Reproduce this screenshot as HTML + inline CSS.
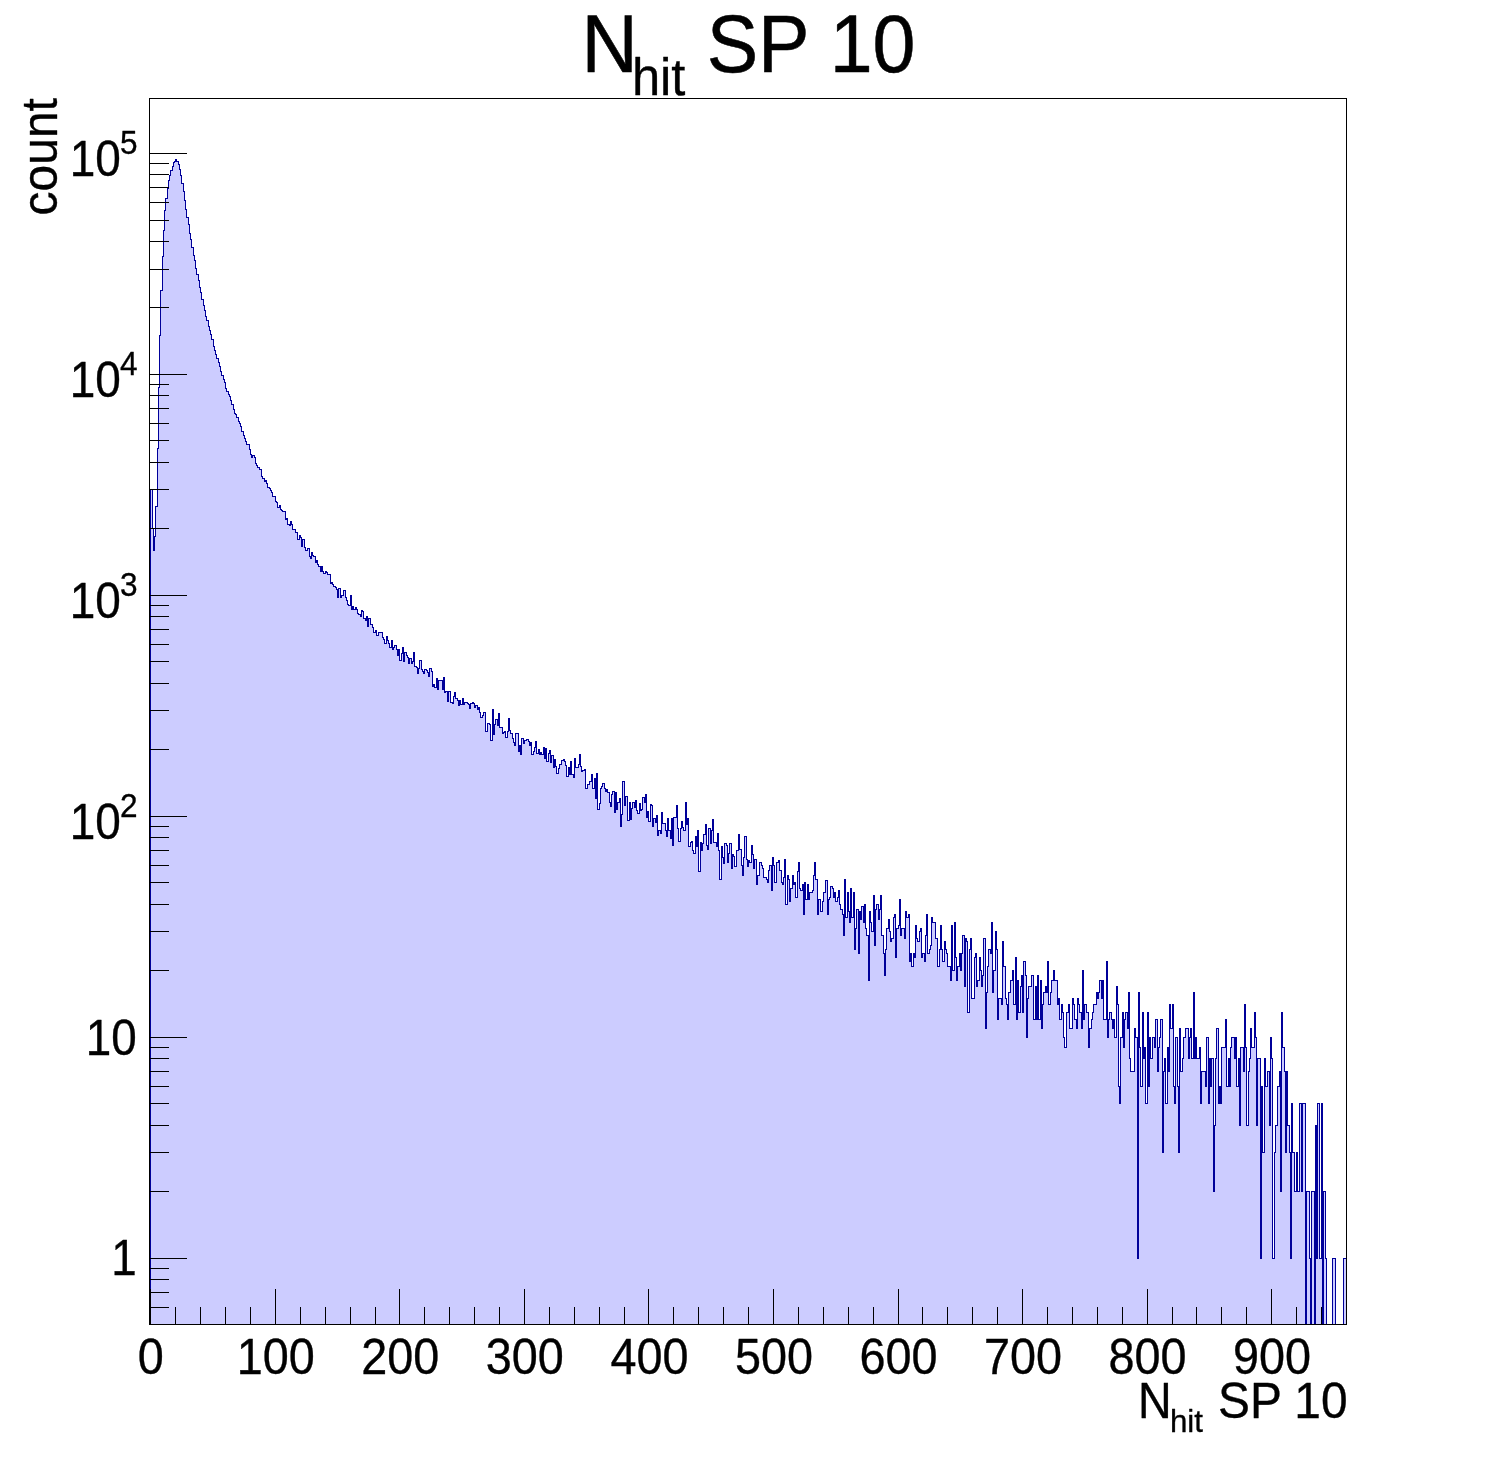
<!DOCTYPE html>
<html lang="en">
<head>
<meta charset="utf-8">
<title>N_hit SP 10</title>
<style>
html,body{margin:0;padding:0;background:#fff;}
body{width:1496px;height:1472px;overflow:hidden;}
svg{display:block;}
svg text{font-family:"Liberation Sans", sans-serif;fill:#000;stroke:#000;stroke-linejoin:round;}
</style>
</head>
<body>
<svg width="1496" height="1472" viewBox="0 0 1496 1472">
<rect x="0" y="0" width="1496" height="1472" fill="#fff"/>
<g shape-rendering="crispEdges">
<path d="M149.5 1324.5L150.5 1324.5L150.5 489.5L152.5 489.5L152.5 528.5L153.5 528.5L153.5 550.5L154.5 550.5L154.5 536.5L155.5 536.5L155.5 506.5L157.5 506.5L157.5 448.5L158.5 448.5L158.5 387.5L159.5 387.5L159.5 335.5L160.5 335.5L160.5 290.5L162.5 290.5L162.5 256.5L163.5 256.5L163.5 230.5L164.5 230.5L164.5 210.5L165.5 210.5L165.5 198.5L167.5 198.5L167.5 188.5L168.5 188.5L168.5 180.5L169.5 180.5L169.5 175.5L170.5 175.5L170.5 170.5L172.5 170.5L172.5 166.5L173.5 166.5L173.5 162.5L174.5 162.5L174.5 161.5L175.5 161.5L175.5 159.5L176.5 159.5L176.5 161.5L178.5 161.5L178.5 164.5L179.5 164.5L179.5 169.5L180.5 169.5L180.5 175.5L181.5 175.5L181.5 183.5L183.5 183.5L183.5 191.5L184.5 191.5L184.5 200.5L185.5 200.5L185.5 209.5L186.5 209.5L186.5 217.5L188.5 217.5L188.5 224.5L189.5 224.5L189.5 233.5L190.5 233.5L190.5 239.5L191.5 239.5L191.5 247.5L193.5 247.5L193.5 255.5L194.5 255.5L194.5 260.5L195.5 260.5L195.5 268.5L196.5 268.5L196.5 274.5L198.5 274.5L198.5 280.5L199.5 280.5L199.5 287.5L200.5 287.5L200.5 292.5L201.5 292.5L201.5 299.5L203.5 299.5L203.5 305.5L204.5 305.5L204.5 310.5L205.5 310.5L205.5 316.5L206.5 316.5L206.5 320.5L208.5 320.5L208.5 326.5L209.5 326.5L209.5 330.5L210.5 330.5L210.5 334.5L211.5 334.5L211.5 339.5L213.5 339.5L213.5 346.5L214.5 346.5L214.5 350.5L215.5 350.5L215.5 354.5L216.5 354.5L216.5 358.5L218.5 358.5L218.5 362.5L219.5 362.5L219.5 366.5L220.5 366.5L220.5 371.5L221.5 371.5L221.5 375.5L223.5 375.5L223.5 379.5L224.5 379.5L224.5 382.5L225.5 382.5L225.5 388.5L226.5 388.5L226.5 391.5L228.5 391.5L228.5 394.5L229.5 394.5L229.5 396.5L230.5 396.5L230.5 400.5L231.5 400.5L231.5 404.5L233.5 404.5L233.5 409.5L234.5 409.5L234.5 413.5L235.5 413.5L235.5 414.5L236.5 414.5L236.5 417.5L238.5 417.5L238.5 421.5L239.5 421.5L239.5 423.5L240.5 423.5L240.5 426.5L241.5 426.5L241.5 431.5L243.5 431.5L243.5 435.5L244.5 435.5L244.5 438.5L245.5 438.5L245.5 441.5L246.5 441.5L246.5 444.5L247.5 444.5L249.5 444.5L249.5 449.5L250.5 449.5L250.5 454.5L251.5 454.5L251.5 457.5L252.5 457.5L252.5 455.5L254.5 455.5L254.5 457.5L255.5 457.5L255.5 463.5L256.5 463.5L256.5 465.5L257.5 465.5L257.5 467.5L259.5 467.5L259.5 469.5L260.5 469.5L261.5 469.5L261.5 476.5L262.5 476.5L262.5 478.5L264.5 478.5L264.5 481.5L265.5 481.5L265.5 480.5L266.5 480.5L266.5 483.5L267.5 483.5L267.5 487.5L269.5 487.5L269.5 488.5L270.5 488.5L270.5 490.5L271.5 490.5L271.5 492.5L272.5 492.5L272.5 496.5L274.5 496.5L275.5 496.5L275.5 501.5L276.5 501.5L276.5 502.5L277.5 502.5L277.5 507.5L279.5 507.5L279.5 505.5L280.5 505.5L280.5 509.5L281.5 509.5L281.5 510.5L282.5 510.5L282.5 511.5L284.5 511.5L285.5 511.5L285.5 519.5L286.5 519.5L286.5 518.5L287.5 518.5L287.5 524.5L289.5 524.5L289.5 525.5L290.5 525.5L290.5 521.5L291.5 521.5L291.5 524.5L292.5 524.5L292.5 529.5L294.5 529.5L295.5 529.5L295.5 532.5L296.5 532.5L297.5 532.5L297.5 539.5L299.5 539.5L299.5 535.5L300.5 535.5L300.5 537.5L301.5 537.5L301.5 546.5L302.5 546.5L302.5 539.5L304.5 539.5L304.5 547.5L305.5 547.5L305.5 550.5L306.5 550.5L307.5 550.5L307.5 548.5L309.5 548.5L309.5 556.5L310.5 556.5L310.5 558.5L311.5 558.5L311.5 552.5L312.5 552.5L312.5 555.5L313.5 555.5L313.5 556.5L315.5 556.5L315.5 562.5L316.5 562.5L316.5 560.5L317.5 560.5L317.5 564.5L318.5 564.5L318.5 566.5L320.5 566.5L320.5 571.5L321.5 571.5L321.5 566.5L322.5 566.5L322.5 571.5L323.5 571.5L323.5 573.5L325.5 573.5L325.5 571.5L326.5 571.5L326.5 572.5L327.5 572.5L327.5 574.5L328.5 574.5L330.5 574.5L330.5 583.5L331.5 583.5L331.5 582.5L332.5 582.5L332.5 584.5L333.5 584.5L333.5 586.5L335.5 586.5L335.5 587.5L336.5 587.5L336.5 589.5L337.5 589.5L337.5 597.5L338.5 597.5L338.5 588.5L340.5 588.5L340.5 597.5L341.5 597.5L341.5 595.5L342.5 595.5L343.5 595.5L343.5 590.5L345.5 590.5L345.5 597.5L346.5 597.5L346.5 600.5L347.5 600.5L347.5 604.5L348.5 604.5L348.5 605.5L350.5 605.5L350.5 595.5L351.5 595.5L351.5 609.5L352.5 609.5L352.5 606.5L353.5 606.5L353.5 609.5L355.5 609.5L355.5 607.5L356.5 607.5L356.5 609.5L357.5 609.5L357.5 613.5L358.5 613.5L358.5 614.5L360.5 614.5L360.5 616.5L361.5 616.5L361.5 610.5L362.5 610.5L362.5 611.5L363.5 611.5L363.5 618.5L365.5 618.5L365.5 620.5L366.5 620.5L366.5 616.5L367.5 616.5L367.5 626.5L368.5 626.5L368.5 618.5L370.5 618.5L370.5 624.5L371.5 624.5L372.5 624.5L372.5 627.5L373.5 627.5L373.5 632.5L375.5 632.5L375.5 630.5L376.5 630.5L376.5 635.5L377.5 635.5L378.5 635.5L378.5 632.5L379.5 632.5L381.5 632.5L382.5 632.5L382.5 637.5L383.5 637.5L383.5 639.5L384.5 639.5L384.5 643.5L386.5 643.5L386.5 636.5L387.5 636.5L387.5 640.5L388.5 640.5L388.5 643.5L389.5 643.5L389.5 647.5L391.5 647.5L391.5 640.5L392.5 640.5L392.5 649.5L393.5 649.5L393.5 647.5L394.5 647.5L394.5 645.5L396.5 645.5L396.5 649.5L397.5 649.5L397.5 655.5L398.5 655.5L398.5 649.5L399.5 649.5L399.5 660.5L401.5 660.5L401.5 653.5L402.5 653.5L402.5 647.5L403.5 647.5L403.5 661.5L404.5 661.5L404.5 652.5L406.5 652.5L406.5 655.5L407.5 655.5L407.5 657.5L408.5 657.5L408.5 663.5L409.5 663.5L409.5 658.5L411.5 658.5L411.5 663.5L412.5 663.5L412.5 661.5L413.5 661.5L413.5 652.5L414.5 652.5L414.5 666.5L416.5 666.5L416.5 667.5L417.5 667.5L417.5 673.5L418.5 673.5L418.5 668.5L419.5 668.5L419.5 660.5L421.5 660.5L421.5 669.5L422.5 669.5L422.5 671.5L423.5 671.5L423.5 673.5L424.5 673.5L424.5 669.5L426.5 669.5L426.5 670.5L427.5 670.5L427.5 672.5L428.5 672.5L428.5 676.5L429.5 676.5L429.5 668.5L431.5 668.5L431.5 671.5L432.5 671.5L432.5 686.5L433.5 686.5L433.5 684.5L434.5 684.5L434.5 687.5L436.5 687.5L436.5 678.5L437.5 678.5L437.5 689.5L438.5 689.5L438.5 680.5L439.5 680.5L441.5 680.5L442.5 680.5L442.5 689.5L443.5 689.5L443.5 677.5L444.5 677.5L444.5 692.5L445.5 692.5L445.5 691.5L447.5 691.5L447.5 701.5L448.5 701.5L448.5 691.5L449.5 691.5L450.5 691.5L450.5 702.5L452.5 702.5L452.5 703.5L453.5 703.5L453.5 696.5L454.5 696.5L454.5 692.5L455.5 692.5L455.5 698.5L457.5 698.5L457.5 700.5L458.5 700.5L458.5 705.5L459.5 705.5L459.5 700.5L460.5 700.5L460.5 704.5L462.5 704.5L462.5 698.5L463.5 698.5L463.5 704.5L464.5 704.5L464.5 702.5L465.5 702.5L467.5 702.5L467.5 703.5L468.5 703.5L468.5 704.5L469.5 704.5L469.5 708.5L470.5 708.5L470.5 703.5L472.5 703.5L472.5 702.5L473.5 702.5L473.5 703.5L474.5 703.5L474.5 707.5L475.5 707.5L475.5 705.5L477.5 705.5L477.5 709.5L478.5 709.5L478.5 707.5L479.5 707.5L479.5 712.5L480.5 712.5L480.5 717.5L482.5 717.5L482.5 715.5L483.5 715.5L483.5 712.5L484.5 712.5L485.5 712.5L485.5 731.5L487.5 731.5L487.5 723.5L488.5 723.5L489.5 723.5L489.5 724.5L490.5 724.5L490.5 740.5L492.5 740.5L492.5 709.5L493.5 709.5L493.5 734.5L494.5 734.5L494.5 724.5L495.5 724.5L495.5 719.5L497.5 719.5L497.5 725.5L498.5 725.5L498.5 713.5L499.5 713.5L499.5 727.5L500.5 727.5L502.5 727.5L502.5 733.5L503.5 733.5L503.5 732.5L504.5 732.5L504.5 731.5L505.5 731.5L505.5 737.5L507.5 737.5L507.5 731.5L508.5 731.5L508.5 718.5L509.5 718.5L509.5 730.5L510.5 730.5L510.5 733.5L512.5 733.5L512.5 738.5L513.5 738.5L513.5 742.5L514.5 742.5L514.5 745.5L515.5 745.5L515.5 733.5L516.5 733.5L518.5 733.5L518.5 751.5L519.5 751.5L519.5 745.5L520.5 745.5L520.5 754.5L521.5 754.5L521.5 738.5L523.5 738.5L523.5 743.5L524.5 743.5L524.5 740.5L525.5 740.5L526.5 740.5L526.5 739.5L528.5 739.5L528.5 741.5L529.5 741.5L529.5 745.5L530.5 745.5L530.5 742.5L531.5 742.5L531.5 754.5L533.5 754.5L533.5 751.5L534.5 751.5L534.5 747.5L535.5 747.5L535.5 741.5L536.5 741.5L536.5 753.5L538.5 753.5L538.5 749.5L539.5 749.5L539.5 754.5L540.5 754.5L540.5 752.5L541.5 752.5L541.5 754.5L543.5 754.5L543.5 747.5L544.5 747.5L544.5 758.5L545.5 758.5L545.5 748.5L546.5 748.5L546.5 761.5L548.5 761.5L548.5 753.5L549.5 753.5L549.5 750.5L550.5 750.5L550.5 762.5L551.5 762.5L551.5 755.5L553.5 755.5L553.5 767.5L554.5 767.5L554.5 759.5L555.5 759.5L555.5 766.5L556.5 766.5L556.5 773.5L558.5 773.5L558.5 768.5L559.5 768.5L559.5 764.5L560.5 764.5L561.5 764.5L561.5 760.5L563.5 760.5L563.5 759.5L564.5 759.5L564.5 761.5L565.5 761.5L565.5 765.5L566.5 765.5L566.5 776.5L568.5 776.5L568.5 767.5L569.5 767.5L569.5 774.5L570.5 774.5L570.5 761.5L571.5 761.5L571.5 774.5L573.5 774.5L573.5 777.5L574.5 777.5L574.5 758.5L575.5 758.5L575.5 767.5L576.5 767.5L578.5 767.5L578.5 764.5L579.5 764.5L579.5 754.5L580.5 754.5L580.5 766.5L581.5 766.5L581.5 771.5L582.5 771.5L582.5 770.5L584.5 770.5L584.5 769.5L585.5 769.5L585.5 788.5L586.5 788.5L587.5 788.5L587.5 784.5L589.5 784.5L589.5 781.5L590.5 781.5L591.5 781.5L591.5 774.5L592.5 774.5L592.5 788.5L594.5 788.5L594.5 778.5L595.5 778.5L595.5 798.5L596.5 798.5L596.5 773.5L597.5 773.5L597.5 809.5L599.5 809.5L599.5 803.5L600.5 803.5L600.5 788.5L601.5 788.5L601.5 786.5L602.5 786.5L602.5 783.5L604.5 783.5L604.5 788.5L605.5 788.5L605.5 791.5L606.5 791.5L606.5 789.5L607.5 789.5L607.5 792.5L609.5 792.5L609.5 802.5L610.5 802.5L610.5 806.5L611.5 806.5L611.5 794.5L612.5 794.5L612.5 791.5L614.5 791.5L614.5 812.5L615.5 812.5L615.5 792.5L616.5 792.5L616.5 809.5L617.5 809.5L617.5 802.5L619.5 802.5L619.5 798.5L620.5 798.5L620.5 826.5L621.5 826.5L621.5 814.5L622.5 814.5L622.5 781.5L624.5 781.5L624.5 805.5L625.5 805.5L625.5 796.5L626.5 796.5L627.5 796.5L627.5 820.5L629.5 820.5L629.5 802.5L630.5 802.5L630.5 819.5L631.5 819.5L631.5 808.5L632.5 808.5L632.5 802.5L634.5 802.5L634.5 807.5L635.5 807.5L635.5 800.5L636.5 800.5L636.5 810.5L637.5 810.5L637.5 813.5L639.5 813.5L639.5 803.5L640.5 803.5L640.5 810.5L641.5 810.5L641.5 809.5L642.5 809.5L642.5 797.5L644.5 797.5L644.5 802.5L645.5 802.5L645.5 794.5L646.5 794.5L646.5 817.5L647.5 817.5L647.5 811.5L648.5 811.5L648.5 821.5L650.5 821.5L650.5 804.5L651.5 804.5L651.5 805.5L652.5 805.5L652.5 826.5L653.5 826.5L653.5 818.5L655.5 818.5L655.5 822.5L656.5 822.5L656.5 815.5L657.5 815.5L657.5 835.5L658.5 835.5L658.5 830.5L660.5 830.5L660.5 833.5L661.5 833.5L661.5 812.5L662.5 812.5L662.5 823.5L663.5 823.5L665.5 823.5L665.5 830.5L666.5 830.5L666.5 836.5L667.5 836.5L667.5 818.5L668.5 818.5L668.5 830.5L670.5 830.5L670.5 838.5L671.5 838.5L671.5 818.5L672.5 818.5L672.5 845.5L673.5 845.5L673.5 817.5L675.5 817.5L676.5 817.5L676.5 805.5L677.5 805.5L677.5 828.5L678.5 828.5L678.5 841.5L680.5 841.5L680.5 828.5L681.5 828.5L681.5 821.5L682.5 821.5L682.5 827.5L683.5 827.5L683.5 830.5L685.5 830.5L685.5 802.5L686.5 802.5L686.5 824.5L687.5 824.5L687.5 818.5L688.5 818.5L688.5 846.5L690.5 846.5L690.5 842.5L691.5 842.5L691.5 841.5L692.5 841.5L692.5 850.5L693.5 850.5L693.5 853.5L695.5 853.5L695.5 836.5L696.5 836.5L696.5 846.5L697.5 846.5L697.5 830.5L698.5 830.5L698.5 871.5L700.5 871.5L700.5 842.5L701.5 842.5L701.5 850.5L702.5 850.5L702.5 843.5L703.5 843.5L703.5 834.5L705.5 834.5L705.5 824.5L706.5 824.5L706.5 845.5L707.5 845.5L707.5 849.5L708.5 849.5L708.5 828.5L710.5 828.5L710.5 843.5L711.5 843.5L711.5 830.5L712.5 830.5L712.5 819.5L713.5 819.5L713.5 842.5L714.5 842.5L716.5 842.5L716.5 846.5L717.5 846.5L717.5 833.5L718.5 833.5L718.5 850.5L719.5 850.5L719.5 879.5L721.5 879.5L721.5 846.5L722.5 846.5L722.5 857.5L723.5 857.5L723.5 863.5L724.5 863.5L724.5 843.5L726.5 843.5L726.5 845.5L727.5 845.5L727.5 862.5L728.5 862.5L728.5 853.5L729.5 853.5L729.5 843.5L731.5 843.5L731.5 868.5L732.5 868.5L732.5 854.5L733.5 854.5L733.5 856.5L734.5 856.5L734.5 866.5L736.5 866.5L736.5 850.5L737.5 850.5L738.5 850.5L738.5 834.5L739.5 834.5L739.5 849.5L741.5 849.5L741.5 865.5L742.5 865.5L742.5 875.5L743.5 875.5L743.5 857.5L744.5 857.5L744.5 836.5L746.5 836.5L746.5 859.5L747.5 859.5L747.5 866.5L748.5 866.5L748.5 860.5L749.5 860.5L749.5 862.5L751.5 862.5L751.5 845.5L752.5 845.5L752.5 854.5L753.5 854.5L753.5 868.5L754.5 868.5L754.5 859.5L756.5 859.5L756.5 884.5L757.5 884.5L757.5 875.5L758.5 875.5L759.5 875.5L759.5 862.5L761.5 862.5L761.5 865.5L762.5 865.5L762.5 868.5L763.5 868.5L763.5 877.5L764.5 877.5L766.5 877.5L766.5 879.5L767.5 879.5L767.5 882.5L768.5 882.5L768.5 870.5L769.5 870.5L769.5 865.5L771.5 865.5L771.5 890.5L772.5 890.5L772.5 857.5L773.5 857.5L773.5 865.5L774.5 865.5L774.5 882.5L776.5 882.5L776.5 862.5L777.5 862.5L778.5 862.5L778.5 860.5L779.5 860.5L779.5 870.5L781.5 870.5L781.5 882.5L782.5 882.5L782.5 884.5L783.5 884.5L783.5 877.5L784.5 877.5L784.5 859.5L785.5 859.5L785.5 904.5L787.5 904.5L787.5 875.5L788.5 875.5L788.5 879.5L789.5 879.5L789.5 901.5L790.5 901.5L790.5 888.5L792.5 888.5L792.5 875.5L793.5 875.5L793.5 884.5L794.5 884.5L794.5 882.5L795.5 882.5L795.5 897.5L797.5 897.5L797.5 871.5L798.5 871.5L798.5 862.5L799.5 862.5L799.5 888.5L800.5 888.5L800.5 890.5L802.5 890.5L802.5 884.5L803.5 884.5L803.5 914.5L804.5 914.5L804.5 882.5L805.5 882.5L805.5 899.5L807.5 899.5L807.5 884.5L808.5 884.5L808.5 899.5L809.5 899.5L809.5 892.5L810.5 892.5L812.5 892.5L812.5 890.5L813.5 890.5L813.5 875.5L814.5 875.5L814.5 862.5L815.5 862.5L815.5 879.5L817.5 879.5L817.5 914.5L818.5 914.5L818.5 899.5L819.5 899.5L820.5 899.5L820.5 911.5L822.5 911.5L822.5 901.5L823.5 901.5L823.5 892.5L824.5 892.5L825.5 892.5L825.5 880.5L827.5 880.5L827.5 914.5L828.5 914.5L828.5 899.5L829.5 899.5L829.5 897.5L830.5 897.5L830.5 886.5L832.5 886.5L832.5 888.5L833.5 888.5L833.5 897.5L834.5 897.5L834.5 892.5L835.5 892.5L835.5 901.5L837.5 901.5L837.5 897.5L838.5 897.5L838.5 890.5L839.5 890.5L839.5 904.5L840.5 904.5L840.5 909.5L842.5 909.5L842.5 914.5L843.5 914.5L843.5 935.5L844.5 935.5L844.5 879.5L845.5 879.5L845.5 917.5L847.5 917.5L847.5 892.5L848.5 892.5L848.5 911.5L849.5 911.5L849.5 922.5L850.5 922.5L850.5 888.5L851.5 888.5L851.5 917.5L853.5 917.5L853.5 892.5L854.5 892.5L854.5 949.5L855.5 949.5L855.5 928.5L856.5 928.5L856.5 909.5L858.5 909.5L858.5 953.5L859.5 953.5L859.5 911.5L860.5 911.5L860.5 919.5L861.5 919.5L861.5 906.5L863.5 906.5L863.5 922.5L864.5 922.5L864.5 904.5L865.5 904.5L865.5 928.5L866.5 928.5L866.5 935.5L868.5 935.5L868.5 980.5L869.5 980.5L869.5 911.5L870.5 911.5L870.5 922.5L871.5 922.5L871.5 931.5L873.5 931.5L873.5 895.5L874.5 895.5L874.5 945.5L875.5 945.5L875.5 909.5L876.5 909.5L876.5 904.5L878.5 904.5L878.5 919.5L879.5 919.5L879.5 909.5L880.5 909.5L880.5 895.5L881.5 895.5L881.5 935.5L883.5 935.5L883.5 953.5L884.5 953.5L884.5 975.5L885.5 975.5L885.5 949.5L886.5 949.5L886.5 928.5L888.5 928.5L888.5 919.5L889.5 919.5L889.5 931.5L890.5 931.5L890.5 941.5L891.5 941.5L891.5 938.5L893.5 938.5L893.5 917.5L894.5 917.5L894.5 914.5L895.5 914.5L895.5 957.5L896.5 957.5L896.5 928.5L898.5 928.5L898.5 925.5L899.5 925.5L899.5 899.5L900.5 899.5L900.5 935.5L901.5 935.5L901.5 928.5L903.5 928.5L904.5 928.5L904.5 938.5L905.5 938.5L905.5 911.5L906.5 911.5L906.5 917.5L908.5 917.5L908.5 914.5L909.5 914.5L909.5 961.5L910.5 961.5L910.5 953.5L911.5 953.5L911.5 966.5L913.5 966.5L913.5 953.5L914.5 953.5L914.5 957.5L915.5 957.5L915.5 925.5L916.5 925.5L916.5 938.5L917.5 938.5L917.5 941.5L919.5 941.5L919.5 931.5L920.5 931.5L920.5 928.5L921.5 928.5L921.5 957.5L922.5 957.5L922.5 953.5L924.5 953.5L924.5 961.5L925.5 961.5L925.5 935.5L926.5 935.5L926.5 914.5L927.5 914.5L927.5 953.5L929.5 953.5L929.5 949.5L930.5 949.5L930.5 945.5L931.5 945.5L931.5 917.5L932.5 917.5L932.5 922.5L934.5 922.5L935.5 922.5L935.5 938.5L936.5 938.5L937.5 938.5L937.5 966.5L939.5 966.5L939.5 949.5L940.5 949.5L940.5 925.5L941.5 925.5L941.5 949.5L942.5 949.5L942.5 961.5L944.5 961.5L944.5 941.5L945.5 941.5L945.5 949.5L946.5 949.5L946.5 953.5L947.5 953.5L947.5 966.5L949.5 966.5L950.5 966.5L950.5 980.5L951.5 980.5L951.5 925.5L952.5 925.5L952.5 970.5L954.5 970.5L954.5 922.5L955.5 922.5L955.5 957.5L956.5 957.5L956.5 980.5L957.5 980.5L957.5 966.5L959.5 966.5L959.5 953.5L960.5 953.5L960.5 970.5L961.5 970.5L961.5 953.5L962.5 953.5L962.5 935.5L964.5 935.5L964.5 986.5L965.5 986.5L965.5 938.5L966.5 938.5L966.5 941.5L967.5 941.5L967.5 1012.5L969.5 1012.5L969.5 949.5L970.5 949.5L970.5 938.5L971.5 938.5L971.5 998.5L972.5 998.5L974.5 998.5L974.5 957.5L975.5 957.5L975.5 953.5L976.5 953.5L976.5 986.5L977.5 986.5L977.5 980.5L979.5 980.5L979.5 957.5L980.5 957.5L980.5 970.5L981.5 970.5L981.5 986.5L982.5 986.5L982.5 975.5L983.5 975.5L983.5 938.5L985.5 938.5L985.5 1028.5L986.5 1028.5L986.5 992.5L987.5 992.5L987.5 966.5L988.5 966.5L988.5 949.5L990.5 949.5L990.5 953.5L991.5 953.5L991.5 922.5L992.5 922.5L992.5 992.5L993.5 992.5L993.5 970.5L995.5 970.5L995.5 931.5L996.5 931.5L996.5 949.5L997.5 949.5L997.5 1019.5L998.5 1019.5L998.5 998.5L1000.5 998.5L1001.5 998.5L1001.5 1004.5L1002.5 1004.5L1002.5 941.5L1003.5 941.5L1003.5 966.5L1005.5 966.5L1005.5 998.5L1006.5 998.5L1006.5 1004.5L1007.5 1004.5L1007.5 1019.5L1008.5 1019.5L1008.5 992.5L1010.5 992.5L1010.5 980.5L1011.5 980.5L1012.5 980.5L1012.5 970.5L1013.5 970.5L1013.5 1004.5L1015.5 1004.5L1015.5 957.5L1016.5 957.5L1016.5 1019.5L1017.5 1019.5L1017.5 980.5L1018.5 980.5L1018.5 1012.5L1020.5 1012.5L1020.5 986.5L1021.5 986.5L1021.5 975.5L1022.5 975.5L1022.5 1012.5L1023.5 1012.5L1023.5 961.5L1025.5 961.5L1025.5 975.5L1026.5 975.5L1026.5 1037.5L1027.5 1037.5L1027.5 998.5L1028.5 998.5L1028.5 986.5L1030.5 986.5L1031.5 986.5L1031.5 975.5L1032.5 975.5L1033.5 975.5L1033.5 1019.5L1035.5 1019.5L1035.5 986.5L1036.5 986.5L1036.5 1019.5L1037.5 1019.5L1037.5 975.5L1038.5 975.5L1038.5 1019.5L1040.5 1019.5L1040.5 980.5L1041.5 980.5L1041.5 1028.5L1042.5 1028.5L1042.5 1004.5L1043.5 1004.5L1043.5 992.5L1045.5 992.5L1045.5 986.5L1046.5 986.5L1046.5 992.5L1047.5 992.5L1047.5 961.5L1048.5 961.5L1048.5 1004.5L1050.5 1004.5L1050.5 992.5L1051.5 992.5L1051.5 980.5L1052.5 980.5L1053.5 980.5L1053.5 970.5L1054.5 970.5L1054.5 980.5L1056.5 980.5L1057.5 980.5L1057.5 1004.5L1058.5 1004.5L1058.5 998.5L1059.5 998.5L1059.5 1019.5L1061.5 1019.5L1061.5 1004.5L1062.5 1004.5L1062.5 1012.5L1063.5 1012.5L1063.5 1037.5L1064.5 1037.5L1064.5 1047.5L1066.5 1047.5L1066.5 1012.5L1067.5 1012.5L1068.5 1012.5L1068.5 1004.5L1069.5 1004.5L1069.5 1028.5L1071.5 1028.5L1072.5 1028.5L1072.5 998.5L1073.5 998.5L1073.5 1004.5L1074.5 1004.5L1074.5 1019.5L1076.5 1019.5L1076.5 1028.5L1077.5 1028.5L1077.5 998.5L1078.5 998.5L1078.5 1004.5L1079.5 1004.5L1079.5 1012.5L1081.5 1012.5L1081.5 1028.5L1082.5 1028.5L1082.5 970.5L1083.5 970.5L1083.5 1019.5L1084.5 1019.5L1084.5 1004.5L1086.5 1004.5L1086.5 1012.5L1087.5 1012.5L1088.5 1012.5L1088.5 1047.5L1089.5 1047.5L1089.5 1028.5L1091.5 1028.5L1091.5 1019.5L1092.5 1019.5L1092.5 1012.5L1093.5 1012.5L1093.5 1004.5L1094.5 1004.5L1096.5 1004.5L1096.5 992.5L1097.5 992.5L1097.5 998.5L1098.5 998.5L1098.5 992.5L1099.5 992.5L1099.5 980.5L1101.5 980.5L1101.5 998.5L1102.5 998.5L1102.5 980.5L1103.5 980.5L1103.5 1019.5L1104.5 1019.5L1106.5 1019.5L1106.5 961.5L1107.5 961.5L1107.5 1037.5L1108.5 1037.5L1108.5 1019.5L1109.5 1019.5L1109.5 1012.5L1111.5 1012.5L1111.5 1019.5L1112.5 1019.5L1112.5 1028.5L1113.5 1028.5L1113.5 1019.5L1114.5 1019.5L1114.5 1037.5L1116.5 1037.5L1116.5 986.5L1117.5 986.5L1117.5 1004.5L1118.5 1004.5L1118.5 1086.5L1119.5 1086.5L1119.5 1103.5L1120.5 1103.5L1120.5 1037.5L1122.5 1037.5L1122.5 1012.5L1123.5 1012.5L1123.5 1047.5L1124.5 1047.5L1124.5 1019.5L1125.5 1019.5L1125.5 1012.5L1127.5 1012.5L1127.5 1028.5L1128.5 1028.5L1128.5 992.5L1129.5 992.5L1129.5 1058.5L1130.5 1058.5L1130.5 1071.5L1132.5 1071.5L1133.5 1071.5L1134.5 1071.5L1134.5 1028.5L1135.5 1028.5L1135.5 1037.5L1137.5 1037.5L1137.5 1258.5L1138.5 1258.5L1138.5 992.5L1139.5 992.5L1139.5 1047.5L1140.5 1047.5L1140.5 1086.5L1142.5 1086.5L1142.5 1012.5L1143.5 1012.5L1143.5 1058.5L1144.5 1058.5L1144.5 1047.5L1145.5 1047.5L1145.5 1103.5L1147.5 1103.5L1147.5 1012.5L1148.5 1012.5L1148.5 1086.5L1149.5 1086.5L1149.5 1037.5L1150.5 1037.5L1150.5 1058.5L1152.5 1058.5L1152.5 1037.5L1153.5 1037.5L1154.5 1037.5L1154.5 1047.5L1155.5 1047.5L1155.5 1019.5L1157.5 1019.5L1157.5 1071.5L1158.5 1071.5L1158.5 1047.5L1159.5 1047.5L1159.5 1037.5L1160.5 1037.5L1160.5 1019.5L1162.5 1019.5L1162.5 1152.5L1163.5 1152.5L1163.5 1071.5L1164.5 1071.5L1164.5 1058.5L1165.5 1058.5L1165.5 1103.5L1167.5 1103.5L1167.5 1047.5L1168.5 1047.5L1168.5 1071.5L1169.5 1071.5L1169.5 1004.5L1170.5 1004.5L1170.5 1028.5L1172.5 1028.5L1172.5 1004.5L1173.5 1004.5L1173.5 1086.5L1174.5 1086.5L1174.5 1103.5L1175.5 1103.5L1175.5 1037.5L1177.5 1037.5L1177.5 1086.5L1178.5 1086.5L1178.5 1152.5L1179.5 1152.5L1179.5 1028.5L1180.5 1028.5L1180.5 1071.5L1182.5 1071.5L1182.5 1058.5L1183.5 1058.5L1183.5 1037.5L1184.5 1037.5L1185.5 1037.5L1185.5 1028.5L1186.5 1028.5L1188.5 1028.5L1188.5 1058.5L1189.5 1058.5L1189.5 1037.5L1190.5 1037.5L1190.5 1028.5L1191.5 1028.5L1191.5 1058.5L1193.5 1058.5L1193.5 992.5L1194.5 992.5L1194.5 1058.5L1195.5 1058.5L1195.5 1037.5L1196.5 1037.5L1196.5 1058.5L1198.5 1058.5L1199.5 1058.5L1199.5 1047.5L1200.5 1047.5L1200.5 1103.5L1201.5 1103.5L1201.5 1071.5L1203.5 1071.5L1204.5 1071.5L1205.5 1071.5L1205.5 1086.5L1206.5 1086.5L1206.5 1037.5L1208.5 1037.5L1208.5 1103.5L1209.5 1103.5L1209.5 1058.5L1210.5 1058.5L1210.5 1086.5L1211.5 1086.5L1211.5 1058.5L1213.5 1058.5L1213.5 1191.5L1214.5 1191.5L1214.5 1125.5L1215.5 1125.5L1215.5 1058.5L1216.5 1058.5L1216.5 1028.5L1218.5 1028.5L1218.5 1103.5L1219.5 1103.5L1219.5 1086.5L1220.5 1086.5L1220.5 1103.5L1221.5 1103.5L1221.5 1047.5L1223.5 1047.5L1224.5 1047.5L1225.5 1047.5L1225.5 1019.5L1226.5 1019.5L1226.5 1086.5L1228.5 1086.5L1228.5 1058.5L1229.5 1058.5L1229.5 1086.5L1230.5 1086.5L1230.5 1047.5L1231.5 1047.5L1231.5 1037.5L1233.5 1037.5L1234.5 1037.5L1234.5 1058.5L1235.5 1058.5L1235.5 1037.5L1236.5 1037.5L1236.5 1086.5L1238.5 1086.5L1238.5 1058.5L1239.5 1058.5L1239.5 1125.5L1240.5 1125.5L1240.5 1047.5L1241.5 1047.5L1243.5 1047.5L1243.5 1071.5L1244.5 1071.5L1244.5 1004.5L1245.5 1004.5L1245.5 1047.5L1246.5 1047.5L1246.5 1125.5L1248.5 1125.5L1248.5 1071.5L1249.5 1071.5L1249.5 1058.5L1250.5 1058.5L1250.5 1028.5L1251.5 1028.5L1251.5 1047.5L1252.5 1047.5L1254.5 1047.5L1254.5 1012.5L1255.5 1012.5L1255.5 1037.5L1256.5 1037.5L1256.5 1125.5L1257.5 1125.5L1257.5 1058.5L1259.5 1058.5L1260.5 1058.5L1260.5 1258.5L1261.5 1258.5L1261.5 1086.5L1262.5 1086.5L1262.5 1152.5L1264.5 1152.5L1264.5 1058.5L1265.5 1058.5L1265.5 1086.5L1266.5 1086.5L1267.5 1086.5L1267.5 1071.5L1269.5 1071.5L1269.5 1125.5L1270.5 1125.5L1270.5 1037.5L1271.5 1037.5L1271.5 1058.5L1272.5 1058.5L1272.5 1258.5L1274.5 1258.5L1274.5 1152.5L1275.5 1152.5L1275.5 1125.5L1276.5 1125.5L1277.5 1125.5L1277.5 1086.5L1279.5 1086.5L1279.5 1071.5L1280.5 1071.5L1280.5 1191.5L1281.5 1191.5L1281.5 1012.5L1282.5 1012.5L1282.5 1047.5L1284.5 1047.5L1284.5 1071.5L1285.5 1071.5L1285.5 1152.5L1286.5 1152.5L1286.5 1071.5L1287.5 1071.5L1287.5 1125.5L1289.5 1125.5L1289.5 1152.5L1290.5 1152.5L1290.5 1258.5L1291.5 1258.5L1291.5 1103.5L1292.5 1103.5L1292.5 1152.5L1294.5 1152.5L1294.5 1191.5L1295.5 1191.5L1296.5 1191.5L1296.5 1152.5L1297.5 1152.5L1297.5 1191.5L1299.5 1191.5L1299.5 1103.5L1300.5 1103.5L1301.5 1103.5L1301.5 1191.5L1302.5 1191.5L1302.5 1103.5L1304.5 1103.5L1305.5 1103.5L1305.5 1324.5L1306.5 1324.5L1306.5 1191.5L1307.5 1191.5L1309.5 1191.5L1309.5 1258.5L1310.5 1258.5L1310.5 1324.5L1311.5 1324.5L1311.5 1191.5L1312.5 1191.5L1314.5 1191.5L1314.5 1324.5L1315.5 1324.5L1315.5 1125.5L1316.5 1125.5L1316.5 1258.5L1317.5 1258.5L1317.5 1103.5L1319.5 1103.5L1319.5 1258.5L1320.5 1258.5L1321.5 1258.5L1321.5 1103.5L1322.5 1103.5L1322.5 1324.5L1323.5 1324.5L1323.5 1191.5L1325.5 1191.5L1325.5 1258.5L1326.5 1258.5L1326.5 1324.5L1327.5 1324.5L1328.5 1324.5L1330.5 1324.5L1331.5 1324.5L1332.5 1324.5L1332.5 1258.5L1333.5 1258.5L1335.5 1258.5L1335.5 1324.5L1336.5 1324.5L1337.5 1324.5L1338.5 1324.5L1340.5 1324.5L1341.5 1324.5L1342.5 1324.5L1343.5 1324.5L1343.5 1258.5L1345.5 1258.5L1346.5 1258.5L1346.5 1324.5Z" fill="#ccccff" stroke="none"/>
<path d="M149.5 1324.5L150.5 1324.5L150.5 489.5L152.5 489.5L152.5 528.5L153.5 528.5L153.5 550.5L154.5 550.5L154.5 536.5L155.5 536.5L155.5 506.5L157.5 506.5L157.5 448.5L158.5 448.5L158.5 387.5L159.5 387.5L159.5 335.5L160.5 335.5L160.5 290.5L162.5 290.5L162.5 256.5L163.5 256.5L163.5 230.5L164.5 230.5L164.5 210.5L165.5 210.5L165.5 198.5L167.5 198.5L167.5 188.5L168.5 188.5L168.5 180.5L169.5 180.5L169.5 175.5L170.5 175.5L170.5 170.5L172.5 170.5L172.5 166.5L173.5 166.5L173.5 162.5L174.5 162.5L174.5 161.5L175.5 161.5L175.5 159.5L176.5 159.5L176.5 161.5L178.5 161.5L178.5 164.5L179.5 164.5L179.5 169.5L180.5 169.5L180.5 175.5L181.5 175.5L181.5 183.5L183.5 183.5L183.5 191.5L184.5 191.5L184.5 200.5L185.5 200.5L185.5 209.5L186.5 209.5L186.5 217.5L188.5 217.5L188.5 224.5L189.5 224.5L189.5 233.5L190.5 233.5L190.5 239.5L191.5 239.5L191.5 247.5L193.5 247.5L193.5 255.5L194.5 255.5L194.5 260.5L195.5 260.5L195.5 268.5L196.5 268.5L196.5 274.5L198.5 274.5L198.5 280.5L199.5 280.5L199.5 287.5L200.5 287.5L200.5 292.5L201.5 292.5L201.5 299.5L203.5 299.5L203.5 305.5L204.5 305.5L204.5 310.5L205.5 310.5L205.5 316.5L206.5 316.5L206.5 320.5L208.5 320.5L208.5 326.5L209.5 326.5L209.5 330.5L210.5 330.5L210.5 334.5L211.5 334.5L211.5 339.5L213.5 339.5L213.5 346.5L214.5 346.5L214.5 350.5L215.5 350.5L215.5 354.5L216.5 354.5L216.5 358.5L218.5 358.5L218.5 362.5L219.5 362.5L219.5 366.5L220.5 366.5L220.5 371.5L221.5 371.5L221.5 375.5L223.5 375.5L223.5 379.5L224.5 379.5L224.5 382.5L225.5 382.5L225.5 388.5L226.5 388.5L226.5 391.5L228.5 391.5L228.5 394.5L229.5 394.5L229.5 396.5L230.5 396.5L230.5 400.5L231.5 400.5L231.5 404.5L233.5 404.5L233.5 409.5L234.5 409.5L234.5 413.5L235.5 413.5L235.5 414.5L236.5 414.5L236.5 417.5L238.5 417.5L238.5 421.5L239.5 421.5L239.5 423.5L240.5 423.5L240.5 426.5L241.5 426.5L241.5 431.5L243.5 431.5L243.5 435.5L244.5 435.5L244.5 438.5L245.5 438.5L245.5 441.5L246.5 441.5L246.5 444.5L247.5 444.5L249.5 444.5L249.5 449.5L250.5 449.5L250.5 454.5L251.5 454.5L251.5 457.5L252.5 457.5L252.5 455.5L254.5 455.5L254.5 457.5L255.5 457.5L255.5 463.5L256.5 463.5L256.5 465.5L257.5 465.5L257.5 467.5L259.5 467.5L259.5 469.5L260.5 469.5L261.5 469.5L261.5 476.5L262.5 476.5L262.5 478.5L264.5 478.5L264.5 481.5L265.5 481.5L265.5 480.5L266.5 480.5L266.5 483.5L267.5 483.5L267.5 487.5L269.5 487.5L269.5 488.5L270.5 488.5L270.5 490.5L271.5 490.5L271.5 492.5L272.5 492.5L272.5 496.5L274.5 496.5L275.5 496.5L275.5 501.5L276.5 501.5L276.5 502.5L277.5 502.5L277.5 507.5L279.5 507.5L279.5 505.5L280.5 505.5L280.5 509.5L281.5 509.5L281.5 510.5L282.5 510.5L282.5 511.5L284.5 511.5L285.5 511.5L285.5 519.5L286.5 519.5L286.5 518.5L287.5 518.5L287.5 524.5L289.5 524.5L289.5 525.5L290.5 525.5L290.5 521.5L291.5 521.5L291.5 524.5L292.5 524.5L292.5 529.5L294.5 529.5L295.5 529.5L295.5 532.5L296.5 532.5L297.5 532.5L297.5 539.5L299.5 539.5L299.5 535.5L300.5 535.5L300.5 537.5L301.5 537.5L301.5 546.5L302.5 546.5L302.5 539.5L304.5 539.5L304.5 547.5L305.5 547.5L305.5 550.5L306.5 550.5L307.5 550.5L307.5 548.5L309.5 548.5L309.5 556.5L310.5 556.5L310.5 558.5L311.5 558.5L311.5 552.5L312.5 552.5L312.5 555.5L313.5 555.5L313.5 556.5L315.5 556.5L315.5 562.5L316.5 562.5L316.5 560.5L317.5 560.5L317.5 564.5L318.5 564.5L318.5 566.5L320.5 566.5L320.5 571.5L321.5 571.5L321.5 566.5L322.5 566.5L322.5 571.5L323.5 571.5L323.5 573.5L325.5 573.5L325.5 571.5L326.5 571.5L326.5 572.5L327.5 572.5L327.5 574.5L328.5 574.5L330.5 574.5L330.5 583.5L331.5 583.5L331.5 582.5L332.5 582.5L332.5 584.5L333.5 584.5L333.5 586.5L335.5 586.5L335.5 587.5L336.5 587.5L336.5 589.5L337.5 589.5L337.5 597.5L338.5 597.5L338.5 588.5L340.5 588.5L340.5 597.5L341.5 597.5L341.5 595.5L342.5 595.5L343.5 595.5L343.5 590.5L345.5 590.5L345.5 597.5L346.5 597.5L346.5 600.5L347.5 600.5L347.5 604.5L348.5 604.5L348.5 605.5L350.5 605.5L350.5 595.5L351.5 595.5L351.5 609.5L352.5 609.5L352.5 606.5L353.5 606.5L353.5 609.5L355.5 609.5L355.5 607.5L356.5 607.5L356.5 609.5L357.5 609.5L357.5 613.5L358.5 613.5L358.5 614.5L360.5 614.5L360.5 616.5L361.5 616.5L361.5 610.5L362.5 610.5L362.5 611.5L363.5 611.5L363.5 618.5L365.5 618.5L365.5 620.5L366.5 620.5L366.5 616.5L367.5 616.5L367.5 626.5L368.5 626.5L368.5 618.5L370.5 618.5L370.5 624.5L371.5 624.5L372.5 624.5L372.5 627.5L373.5 627.5L373.5 632.5L375.5 632.5L375.5 630.5L376.5 630.5L376.5 635.5L377.5 635.5L378.5 635.5L378.5 632.5L379.5 632.5L381.5 632.5L382.5 632.5L382.5 637.5L383.5 637.5L383.5 639.5L384.5 639.5L384.5 643.5L386.5 643.5L386.5 636.5L387.5 636.5L387.5 640.5L388.5 640.5L388.5 643.5L389.5 643.5L389.5 647.5L391.5 647.5L391.5 640.5L392.5 640.5L392.5 649.5L393.5 649.5L393.5 647.5L394.5 647.5L394.5 645.5L396.5 645.5L396.5 649.5L397.5 649.5L397.5 655.5L398.5 655.5L398.5 649.5L399.5 649.5L399.5 660.5L401.5 660.5L401.5 653.5L402.5 653.5L402.5 647.5L403.5 647.5L403.5 661.5L404.5 661.5L404.5 652.5L406.5 652.5L406.5 655.5L407.5 655.5L407.5 657.5L408.5 657.5L408.5 663.5L409.5 663.5L409.5 658.5L411.5 658.5L411.5 663.5L412.5 663.5L412.5 661.5L413.5 661.5L413.5 652.5L414.5 652.5L414.5 666.5L416.5 666.5L416.5 667.5L417.5 667.5L417.5 673.5L418.5 673.5L418.5 668.5L419.5 668.5L419.5 660.5L421.5 660.5L421.5 669.5L422.5 669.5L422.5 671.5L423.5 671.5L423.5 673.5L424.5 673.5L424.5 669.5L426.5 669.5L426.5 670.5L427.5 670.5L427.5 672.5L428.5 672.5L428.5 676.5L429.5 676.5L429.5 668.5L431.5 668.5L431.5 671.5L432.5 671.5L432.5 686.5L433.5 686.5L433.5 684.5L434.5 684.5L434.5 687.5L436.5 687.5L436.5 678.5L437.5 678.5L437.5 689.5L438.5 689.5L438.5 680.5L439.5 680.5L441.5 680.5L442.5 680.5L442.5 689.5L443.5 689.5L443.5 677.5L444.5 677.5L444.5 692.5L445.5 692.5L445.5 691.5L447.5 691.5L447.5 701.5L448.5 701.5L448.5 691.5L449.5 691.5L450.5 691.5L450.5 702.5L452.5 702.5L452.5 703.5L453.5 703.5L453.5 696.5L454.5 696.5L454.5 692.5L455.5 692.5L455.5 698.5L457.5 698.5L457.5 700.5L458.5 700.5L458.5 705.5L459.5 705.5L459.5 700.5L460.5 700.5L460.5 704.5L462.5 704.5L462.5 698.5L463.5 698.5L463.5 704.5L464.5 704.5L464.5 702.5L465.5 702.5L467.5 702.5L467.5 703.5L468.5 703.5L468.5 704.5L469.5 704.5L469.5 708.5L470.5 708.5L470.5 703.5L472.5 703.5L472.5 702.5L473.5 702.5L473.5 703.5L474.5 703.5L474.5 707.5L475.5 707.5L475.5 705.5L477.5 705.5L477.5 709.5L478.5 709.5L478.5 707.5L479.5 707.5L479.5 712.5L480.5 712.5L480.5 717.5L482.5 717.5L482.5 715.5L483.5 715.5L483.5 712.5L484.5 712.5L485.5 712.5L485.5 731.5L487.5 731.5L487.5 723.5L488.5 723.5L489.5 723.5L489.5 724.5L490.5 724.5L490.5 740.5L492.5 740.5L492.5 709.5L493.5 709.5L493.5 734.5L494.5 734.5L494.5 724.5L495.5 724.5L495.5 719.5L497.5 719.5L497.5 725.5L498.5 725.5L498.5 713.5L499.5 713.5L499.5 727.5L500.5 727.5L502.5 727.5L502.5 733.5L503.5 733.5L503.5 732.5L504.5 732.5L504.5 731.5L505.5 731.5L505.5 737.5L507.5 737.5L507.5 731.5L508.5 731.5L508.5 718.5L509.5 718.5L509.5 730.5L510.5 730.5L510.5 733.5L512.5 733.5L512.5 738.5L513.5 738.5L513.5 742.5L514.5 742.5L514.5 745.5L515.5 745.5L515.5 733.5L516.5 733.5L518.5 733.5L518.5 751.5L519.5 751.5L519.5 745.5L520.5 745.5L520.5 754.5L521.5 754.5L521.5 738.5L523.5 738.5L523.5 743.5L524.5 743.5L524.5 740.5L525.5 740.5L526.5 740.5L526.5 739.5L528.5 739.5L528.5 741.5L529.5 741.5L529.5 745.5L530.5 745.5L530.5 742.5L531.5 742.5L531.5 754.5L533.5 754.5L533.5 751.5L534.5 751.5L534.5 747.5L535.5 747.5L535.5 741.5L536.5 741.5L536.5 753.5L538.5 753.5L538.5 749.5L539.5 749.5L539.5 754.5L540.5 754.5L540.5 752.5L541.5 752.5L541.5 754.5L543.5 754.5L543.5 747.5L544.5 747.5L544.5 758.5L545.5 758.5L545.5 748.5L546.5 748.5L546.5 761.5L548.5 761.5L548.5 753.5L549.5 753.5L549.5 750.5L550.5 750.5L550.5 762.5L551.5 762.5L551.5 755.5L553.5 755.5L553.5 767.5L554.5 767.5L554.5 759.5L555.5 759.5L555.5 766.5L556.5 766.5L556.5 773.5L558.5 773.5L558.5 768.5L559.5 768.5L559.5 764.5L560.5 764.5L561.5 764.5L561.5 760.5L563.5 760.5L563.5 759.5L564.5 759.5L564.5 761.5L565.5 761.5L565.5 765.5L566.5 765.5L566.5 776.5L568.5 776.5L568.5 767.5L569.5 767.5L569.5 774.5L570.5 774.5L570.5 761.5L571.5 761.5L571.5 774.5L573.5 774.5L573.5 777.5L574.5 777.5L574.5 758.5L575.5 758.5L575.5 767.5L576.5 767.5L578.5 767.5L578.5 764.5L579.5 764.5L579.5 754.5L580.5 754.5L580.5 766.5L581.5 766.5L581.5 771.5L582.5 771.5L582.5 770.5L584.5 770.5L584.5 769.5L585.5 769.5L585.5 788.5L586.5 788.5L587.5 788.5L587.5 784.5L589.5 784.5L589.5 781.5L590.5 781.5L591.5 781.5L591.5 774.5L592.5 774.5L592.5 788.5L594.5 788.5L594.5 778.5L595.5 778.5L595.5 798.5L596.5 798.5L596.5 773.5L597.5 773.5L597.5 809.5L599.5 809.5L599.5 803.5L600.5 803.5L600.5 788.5L601.5 788.5L601.5 786.5L602.5 786.5L602.5 783.5L604.5 783.5L604.5 788.5L605.5 788.5L605.5 791.5L606.5 791.5L606.5 789.5L607.5 789.5L607.5 792.5L609.5 792.5L609.5 802.5L610.5 802.5L610.5 806.5L611.5 806.5L611.5 794.5L612.5 794.5L612.5 791.5L614.5 791.5L614.5 812.5L615.5 812.5L615.5 792.5L616.5 792.5L616.5 809.5L617.5 809.5L617.5 802.5L619.5 802.5L619.5 798.5L620.5 798.5L620.5 826.5L621.5 826.5L621.5 814.5L622.5 814.5L622.5 781.5L624.5 781.5L624.5 805.5L625.5 805.5L625.5 796.5L626.5 796.5L627.5 796.5L627.5 820.5L629.5 820.5L629.5 802.5L630.5 802.5L630.5 819.5L631.5 819.5L631.5 808.5L632.5 808.5L632.5 802.5L634.5 802.5L634.5 807.5L635.5 807.5L635.5 800.5L636.5 800.5L636.5 810.5L637.5 810.5L637.5 813.5L639.5 813.5L639.5 803.5L640.5 803.5L640.5 810.5L641.5 810.5L641.5 809.5L642.5 809.5L642.5 797.5L644.5 797.5L644.5 802.5L645.5 802.5L645.5 794.5L646.5 794.5L646.5 817.5L647.5 817.5L647.5 811.5L648.5 811.5L648.5 821.5L650.5 821.5L650.5 804.5L651.5 804.5L651.5 805.5L652.5 805.5L652.5 826.5L653.5 826.5L653.5 818.5L655.5 818.5L655.5 822.5L656.5 822.5L656.5 815.5L657.5 815.5L657.5 835.5L658.5 835.5L658.5 830.5L660.5 830.5L660.5 833.5L661.5 833.5L661.5 812.5L662.5 812.5L662.5 823.5L663.5 823.5L665.5 823.5L665.5 830.5L666.5 830.5L666.5 836.5L667.5 836.5L667.5 818.5L668.5 818.5L668.5 830.5L670.5 830.5L670.5 838.5L671.5 838.5L671.5 818.5L672.5 818.5L672.5 845.5L673.5 845.5L673.5 817.5L675.5 817.5L676.5 817.5L676.5 805.5L677.5 805.5L677.5 828.5L678.5 828.5L678.5 841.5L680.5 841.5L680.5 828.5L681.5 828.5L681.5 821.5L682.5 821.5L682.5 827.5L683.5 827.5L683.5 830.5L685.5 830.5L685.5 802.5L686.5 802.5L686.5 824.5L687.5 824.5L687.5 818.5L688.5 818.5L688.5 846.5L690.5 846.5L690.5 842.5L691.5 842.5L691.5 841.5L692.5 841.5L692.5 850.5L693.5 850.5L693.5 853.5L695.5 853.5L695.5 836.5L696.5 836.5L696.5 846.5L697.5 846.5L697.5 830.5L698.5 830.5L698.5 871.5L700.5 871.5L700.5 842.5L701.5 842.5L701.5 850.5L702.5 850.5L702.5 843.5L703.5 843.5L703.5 834.5L705.5 834.5L705.5 824.5L706.5 824.5L706.5 845.5L707.5 845.5L707.5 849.5L708.5 849.5L708.5 828.5L710.5 828.5L710.5 843.5L711.5 843.5L711.5 830.5L712.5 830.5L712.5 819.5L713.5 819.5L713.5 842.5L714.5 842.5L716.5 842.5L716.5 846.5L717.5 846.5L717.5 833.5L718.5 833.5L718.5 850.5L719.5 850.5L719.5 879.5L721.5 879.5L721.5 846.5L722.5 846.5L722.5 857.5L723.5 857.5L723.5 863.5L724.5 863.5L724.5 843.5L726.5 843.5L726.5 845.5L727.5 845.5L727.5 862.5L728.5 862.5L728.5 853.5L729.5 853.5L729.5 843.5L731.5 843.5L731.5 868.5L732.5 868.5L732.5 854.5L733.5 854.5L733.5 856.5L734.5 856.5L734.5 866.5L736.5 866.5L736.5 850.5L737.5 850.5L738.5 850.5L738.5 834.5L739.5 834.5L739.5 849.5L741.5 849.5L741.5 865.5L742.5 865.5L742.5 875.5L743.5 875.5L743.5 857.5L744.5 857.5L744.5 836.5L746.5 836.5L746.5 859.5L747.5 859.5L747.5 866.5L748.5 866.5L748.5 860.5L749.5 860.5L749.5 862.5L751.5 862.5L751.5 845.5L752.5 845.5L752.5 854.5L753.5 854.5L753.5 868.5L754.5 868.5L754.5 859.5L756.5 859.5L756.5 884.5L757.5 884.5L757.5 875.5L758.5 875.5L759.5 875.5L759.5 862.5L761.5 862.5L761.5 865.5L762.5 865.5L762.5 868.5L763.5 868.5L763.5 877.5L764.5 877.5L766.5 877.5L766.5 879.5L767.5 879.5L767.5 882.5L768.5 882.5L768.5 870.5L769.5 870.5L769.5 865.5L771.5 865.5L771.5 890.5L772.5 890.5L772.5 857.5L773.5 857.5L773.5 865.5L774.5 865.5L774.5 882.5L776.5 882.5L776.5 862.5L777.5 862.5L778.5 862.5L778.5 860.5L779.5 860.5L779.5 870.5L781.5 870.5L781.5 882.5L782.5 882.5L782.5 884.5L783.5 884.5L783.5 877.5L784.5 877.5L784.5 859.5L785.5 859.5L785.5 904.5L787.5 904.5L787.5 875.5L788.5 875.5L788.5 879.5L789.5 879.5L789.5 901.5L790.5 901.5L790.5 888.5L792.5 888.5L792.5 875.5L793.5 875.5L793.5 884.5L794.5 884.5L794.5 882.5L795.5 882.5L795.5 897.5L797.5 897.5L797.5 871.5L798.5 871.5L798.5 862.5L799.5 862.5L799.5 888.5L800.5 888.5L800.5 890.5L802.5 890.5L802.5 884.5L803.5 884.5L803.5 914.5L804.5 914.5L804.5 882.5L805.5 882.5L805.5 899.5L807.5 899.5L807.5 884.5L808.5 884.5L808.5 899.5L809.5 899.5L809.5 892.5L810.5 892.5L812.5 892.5L812.5 890.5L813.5 890.5L813.5 875.5L814.5 875.5L814.5 862.5L815.5 862.5L815.5 879.5L817.5 879.5L817.5 914.5L818.5 914.5L818.5 899.5L819.5 899.5L820.5 899.5L820.5 911.5L822.5 911.5L822.5 901.5L823.5 901.5L823.5 892.5L824.5 892.5L825.5 892.5L825.5 880.5L827.5 880.5L827.5 914.5L828.5 914.5L828.5 899.5L829.5 899.5L829.5 897.5L830.5 897.5L830.5 886.5L832.5 886.5L832.5 888.5L833.5 888.5L833.5 897.5L834.5 897.5L834.5 892.5L835.5 892.5L835.5 901.5L837.5 901.5L837.5 897.5L838.5 897.5L838.5 890.5L839.5 890.5L839.5 904.5L840.5 904.5L840.5 909.5L842.5 909.5L842.5 914.5L843.5 914.5L843.5 935.5L844.5 935.5L844.5 879.5L845.5 879.5L845.5 917.5L847.5 917.5L847.5 892.5L848.5 892.5L848.5 911.5L849.5 911.5L849.5 922.5L850.5 922.5L850.5 888.5L851.5 888.5L851.5 917.5L853.5 917.5L853.5 892.5L854.5 892.5L854.5 949.5L855.5 949.5L855.5 928.5L856.5 928.5L856.5 909.5L858.5 909.5L858.5 953.5L859.5 953.5L859.5 911.5L860.5 911.5L860.5 919.5L861.5 919.5L861.5 906.5L863.5 906.5L863.5 922.5L864.5 922.5L864.5 904.5L865.5 904.5L865.5 928.5L866.5 928.5L866.5 935.5L868.5 935.5L868.5 980.5L869.5 980.5L869.5 911.5L870.5 911.5L870.5 922.5L871.5 922.5L871.5 931.5L873.5 931.5L873.5 895.5L874.5 895.5L874.5 945.5L875.5 945.5L875.5 909.5L876.5 909.5L876.5 904.5L878.5 904.5L878.5 919.5L879.5 919.5L879.5 909.5L880.5 909.5L880.5 895.5L881.5 895.5L881.5 935.5L883.5 935.5L883.5 953.5L884.5 953.5L884.5 975.5L885.5 975.5L885.5 949.5L886.5 949.5L886.5 928.5L888.5 928.5L888.5 919.5L889.5 919.5L889.5 931.5L890.5 931.5L890.5 941.5L891.5 941.5L891.5 938.5L893.5 938.5L893.5 917.5L894.5 917.5L894.5 914.5L895.5 914.5L895.5 957.5L896.5 957.5L896.5 928.5L898.5 928.5L898.5 925.5L899.5 925.5L899.5 899.5L900.5 899.5L900.5 935.5L901.5 935.5L901.5 928.5L903.5 928.5L904.5 928.5L904.5 938.5L905.5 938.5L905.5 911.5L906.5 911.5L906.5 917.5L908.5 917.5L908.5 914.5L909.5 914.5L909.5 961.5L910.5 961.5L910.5 953.5L911.5 953.5L911.5 966.5L913.5 966.5L913.5 953.5L914.5 953.5L914.5 957.5L915.5 957.5L915.5 925.5L916.5 925.5L916.5 938.5L917.5 938.5L917.5 941.5L919.5 941.5L919.5 931.5L920.5 931.5L920.5 928.5L921.5 928.5L921.5 957.5L922.5 957.5L922.5 953.5L924.5 953.5L924.5 961.5L925.5 961.5L925.5 935.5L926.5 935.5L926.5 914.5L927.5 914.5L927.5 953.5L929.5 953.5L929.5 949.5L930.5 949.5L930.5 945.5L931.5 945.5L931.5 917.5L932.5 917.5L932.5 922.5L934.5 922.5L935.5 922.5L935.5 938.5L936.5 938.5L937.5 938.5L937.5 966.5L939.5 966.5L939.5 949.5L940.5 949.5L940.5 925.5L941.5 925.5L941.5 949.5L942.5 949.5L942.5 961.5L944.5 961.5L944.5 941.5L945.5 941.5L945.5 949.5L946.5 949.5L946.5 953.5L947.5 953.5L947.5 966.5L949.5 966.5L950.5 966.5L950.5 980.5L951.5 980.5L951.5 925.5L952.5 925.5L952.5 970.5L954.5 970.5L954.5 922.5L955.5 922.5L955.5 957.5L956.5 957.5L956.5 980.5L957.5 980.5L957.5 966.5L959.5 966.5L959.5 953.5L960.5 953.5L960.5 970.5L961.5 970.5L961.5 953.5L962.5 953.5L962.5 935.5L964.5 935.5L964.5 986.5L965.5 986.5L965.5 938.5L966.5 938.5L966.5 941.5L967.5 941.5L967.5 1012.5L969.5 1012.5L969.5 949.5L970.5 949.5L970.5 938.5L971.5 938.5L971.5 998.5L972.5 998.5L974.5 998.5L974.5 957.5L975.5 957.5L975.5 953.5L976.5 953.5L976.5 986.5L977.5 986.5L977.5 980.5L979.5 980.5L979.5 957.5L980.5 957.5L980.5 970.5L981.5 970.5L981.5 986.5L982.5 986.5L982.5 975.5L983.5 975.5L983.5 938.5L985.5 938.5L985.5 1028.5L986.5 1028.5L986.5 992.5L987.5 992.5L987.5 966.5L988.5 966.5L988.5 949.5L990.5 949.5L990.5 953.5L991.5 953.5L991.5 922.5L992.5 922.5L992.5 992.5L993.5 992.5L993.5 970.5L995.5 970.5L995.5 931.5L996.5 931.5L996.5 949.5L997.5 949.5L997.5 1019.5L998.5 1019.5L998.5 998.5L1000.5 998.5L1001.5 998.5L1001.5 1004.5L1002.5 1004.5L1002.5 941.5L1003.5 941.5L1003.5 966.5L1005.5 966.5L1005.5 998.5L1006.5 998.5L1006.5 1004.5L1007.5 1004.5L1007.5 1019.5L1008.5 1019.5L1008.5 992.5L1010.5 992.5L1010.5 980.5L1011.5 980.5L1012.5 980.5L1012.5 970.5L1013.5 970.5L1013.5 1004.5L1015.5 1004.5L1015.5 957.5L1016.5 957.5L1016.5 1019.5L1017.5 1019.5L1017.5 980.5L1018.5 980.5L1018.5 1012.5L1020.5 1012.5L1020.5 986.5L1021.5 986.5L1021.5 975.5L1022.5 975.5L1022.5 1012.5L1023.5 1012.5L1023.5 961.5L1025.5 961.5L1025.5 975.5L1026.5 975.5L1026.5 1037.5L1027.5 1037.5L1027.5 998.5L1028.5 998.5L1028.5 986.5L1030.5 986.5L1031.5 986.5L1031.5 975.5L1032.5 975.5L1033.5 975.5L1033.5 1019.5L1035.5 1019.5L1035.5 986.5L1036.5 986.5L1036.5 1019.5L1037.5 1019.5L1037.5 975.5L1038.5 975.5L1038.5 1019.5L1040.5 1019.5L1040.5 980.5L1041.5 980.5L1041.5 1028.5L1042.5 1028.5L1042.5 1004.5L1043.5 1004.5L1043.5 992.5L1045.5 992.5L1045.5 986.5L1046.5 986.5L1046.5 992.5L1047.5 992.5L1047.5 961.5L1048.5 961.5L1048.5 1004.5L1050.5 1004.5L1050.5 992.5L1051.5 992.5L1051.5 980.5L1052.5 980.5L1053.5 980.5L1053.5 970.5L1054.5 970.5L1054.5 980.5L1056.5 980.5L1057.5 980.5L1057.5 1004.5L1058.5 1004.5L1058.5 998.5L1059.5 998.5L1059.5 1019.5L1061.5 1019.5L1061.5 1004.5L1062.5 1004.5L1062.5 1012.5L1063.5 1012.5L1063.5 1037.5L1064.5 1037.5L1064.5 1047.5L1066.5 1047.5L1066.5 1012.5L1067.5 1012.5L1068.5 1012.5L1068.5 1004.5L1069.5 1004.5L1069.5 1028.5L1071.5 1028.5L1072.5 1028.5L1072.5 998.5L1073.5 998.5L1073.5 1004.5L1074.5 1004.5L1074.5 1019.5L1076.5 1019.5L1076.5 1028.5L1077.5 1028.5L1077.5 998.5L1078.5 998.5L1078.5 1004.5L1079.5 1004.5L1079.5 1012.5L1081.5 1012.5L1081.5 1028.5L1082.5 1028.5L1082.5 970.5L1083.5 970.5L1083.5 1019.5L1084.5 1019.5L1084.5 1004.5L1086.5 1004.5L1086.5 1012.5L1087.5 1012.5L1088.5 1012.5L1088.5 1047.5L1089.5 1047.5L1089.5 1028.5L1091.5 1028.5L1091.5 1019.5L1092.5 1019.5L1092.5 1012.5L1093.5 1012.5L1093.5 1004.5L1094.5 1004.5L1096.5 1004.5L1096.5 992.5L1097.5 992.5L1097.5 998.5L1098.5 998.5L1098.5 992.5L1099.5 992.5L1099.5 980.5L1101.5 980.5L1101.5 998.5L1102.5 998.5L1102.5 980.5L1103.5 980.5L1103.5 1019.5L1104.5 1019.5L1106.5 1019.5L1106.5 961.5L1107.5 961.5L1107.5 1037.5L1108.5 1037.5L1108.5 1019.5L1109.5 1019.5L1109.5 1012.5L1111.5 1012.5L1111.5 1019.5L1112.5 1019.5L1112.5 1028.5L1113.5 1028.5L1113.5 1019.5L1114.5 1019.5L1114.5 1037.5L1116.5 1037.5L1116.5 986.5L1117.5 986.5L1117.5 1004.5L1118.5 1004.5L1118.5 1086.5L1119.5 1086.5L1119.5 1103.5L1120.5 1103.5L1120.5 1037.5L1122.5 1037.5L1122.5 1012.5L1123.5 1012.5L1123.5 1047.5L1124.5 1047.5L1124.5 1019.5L1125.5 1019.5L1125.5 1012.5L1127.5 1012.5L1127.5 1028.5L1128.5 1028.5L1128.5 992.5L1129.5 992.5L1129.5 1058.5L1130.5 1058.5L1130.5 1071.5L1132.5 1071.5L1133.5 1071.5L1134.5 1071.5L1134.5 1028.5L1135.5 1028.5L1135.5 1037.5L1137.5 1037.5L1137.5 1258.5L1138.5 1258.5L1138.5 992.5L1139.5 992.5L1139.5 1047.5L1140.5 1047.5L1140.5 1086.5L1142.5 1086.5L1142.5 1012.5L1143.5 1012.5L1143.5 1058.5L1144.5 1058.5L1144.5 1047.5L1145.5 1047.5L1145.5 1103.5L1147.5 1103.5L1147.5 1012.5L1148.5 1012.5L1148.5 1086.5L1149.5 1086.5L1149.5 1037.5L1150.5 1037.5L1150.5 1058.5L1152.5 1058.5L1152.5 1037.5L1153.5 1037.5L1154.5 1037.5L1154.5 1047.5L1155.5 1047.5L1155.5 1019.5L1157.5 1019.5L1157.5 1071.5L1158.5 1071.5L1158.5 1047.5L1159.5 1047.5L1159.5 1037.5L1160.5 1037.5L1160.5 1019.5L1162.5 1019.5L1162.5 1152.5L1163.5 1152.5L1163.5 1071.5L1164.5 1071.5L1164.5 1058.5L1165.5 1058.5L1165.5 1103.5L1167.5 1103.5L1167.5 1047.5L1168.5 1047.5L1168.5 1071.5L1169.5 1071.5L1169.5 1004.5L1170.5 1004.5L1170.5 1028.5L1172.5 1028.5L1172.5 1004.5L1173.5 1004.5L1173.5 1086.5L1174.5 1086.5L1174.5 1103.5L1175.5 1103.5L1175.5 1037.5L1177.5 1037.5L1177.5 1086.5L1178.5 1086.5L1178.5 1152.5L1179.5 1152.5L1179.5 1028.5L1180.5 1028.5L1180.5 1071.5L1182.5 1071.5L1182.5 1058.5L1183.5 1058.5L1183.5 1037.5L1184.5 1037.5L1185.5 1037.5L1185.5 1028.5L1186.5 1028.5L1188.5 1028.5L1188.5 1058.5L1189.5 1058.5L1189.5 1037.5L1190.5 1037.5L1190.5 1028.5L1191.5 1028.5L1191.5 1058.5L1193.5 1058.5L1193.5 992.5L1194.5 992.5L1194.5 1058.5L1195.5 1058.5L1195.5 1037.5L1196.5 1037.5L1196.5 1058.5L1198.5 1058.5L1199.5 1058.5L1199.5 1047.5L1200.5 1047.5L1200.5 1103.5L1201.5 1103.5L1201.5 1071.5L1203.5 1071.5L1204.5 1071.5L1205.5 1071.5L1205.5 1086.5L1206.5 1086.5L1206.5 1037.5L1208.5 1037.5L1208.5 1103.5L1209.5 1103.5L1209.5 1058.5L1210.5 1058.5L1210.5 1086.5L1211.5 1086.5L1211.5 1058.5L1213.5 1058.5L1213.5 1191.5L1214.5 1191.5L1214.5 1125.5L1215.5 1125.5L1215.5 1058.5L1216.5 1058.5L1216.5 1028.5L1218.5 1028.5L1218.5 1103.5L1219.5 1103.5L1219.5 1086.5L1220.5 1086.5L1220.5 1103.5L1221.5 1103.5L1221.5 1047.5L1223.5 1047.5L1224.5 1047.5L1225.5 1047.5L1225.5 1019.5L1226.5 1019.5L1226.5 1086.5L1228.5 1086.5L1228.5 1058.5L1229.5 1058.5L1229.5 1086.5L1230.5 1086.5L1230.5 1047.5L1231.5 1047.5L1231.5 1037.5L1233.5 1037.5L1234.5 1037.5L1234.5 1058.5L1235.5 1058.5L1235.5 1037.5L1236.5 1037.5L1236.5 1086.5L1238.5 1086.5L1238.5 1058.5L1239.5 1058.5L1239.5 1125.5L1240.5 1125.5L1240.5 1047.5L1241.5 1047.5L1243.5 1047.5L1243.5 1071.5L1244.5 1071.5L1244.5 1004.5L1245.5 1004.5L1245.5 1047.5L1246.5 1047.5L1246.5 1125.5L1248.5 1125.5L1248.5 1071.5L1249.5 1071.5L1249.5 1058.5L1250.5 1058.5L1250.5 1028.5L1251.5 1028.5L1251.5 1047.5L1252.5 1047.5L1254.5 1047.5L1254.5 1012.5L1255.5 1012.5L1255.5 1037.5L1256.5 1037.5L1256.5 1125.5L1257.5 1125.5L1257.5 1058.5L1259.5 1058.5L1260.5 1058.5L1260.5 1258.5L1261.5 1258.5L1261.5 1086.5L1262.5 1086.5L1262.5 1152.5L1264.5 1152.5L1264.5 1058.5L1265.5 1058.5L1265.5 1086.5L1266.5 1086.5L1267.5 1086.5L1267.5 1071.5L1269.5 1071.5L1269.5 1125.5L1270.5 1125.5L1270.5 1037.5L1271.5 1037.5L1271.5 1058.5L1272.5 1058.5L1272.5 1258.5L1274.5 1258.5L1274.5 1152.5L1275.5 1152.5L1275.5 1125.5L1276.5 1125.5L1277.5 1125.5L1277.5 1086.5L1279.5 1086.5L1279.5 1071.5L1280.5 1071.5L1280.5 1191.5L1281.5 1191.5L1281.5 1012.5L1282.5 1012.5L1282.5 1047.5L1284.5 1047.5L1284.5 1071.5L1285.5 1071.5L1285.5 1152.5L1286.5 1152.5L1286.5 1071.5L1287.5 1071.5L1287.5 1125.5L1289.5 1125.5L1289.5 1152.5L1290.5 1152.5L1290.5 1258.5L1291.5 1258.5L1291.5 1103.5L1292.5 1103.5L1292.5 1152.5L1294.5 1152.5L1294.5 1191.5L1295.5 1191.5L1296.5 1191.5L1296.5 1152.5L1297.5 1152.5L1297.5 1191.5L1299.5 1191.5L1299.5 1103.5L1300.5 1103.5L1301.5 1103.5L1301.5 1191.5L1302.5 1191.5L1302.5 1103.5L1304.5 1103.5L1305.5 1103.5L1305.5 1324.5L1306.5 1324.5L1306.5 1191.5L1307.5 1191.5L1309.5 1191.5L1309.5 1258.5L1310.5 1258.5L1310.5 1324.5L1311.5 1324.5L1311.5 1191.5L1312.5 1191.5L1314.5 1191.5L1314.5 1324.5L1315.5 1324.5L1315.5 1125.5L1316.5 1125.5L1316.5 1258.5L1317.5 1258.5L1317.5 1103.5L1319.5 1103.5L1319.5 1258.5L1320.5 1258.5L1321.5 1258.5L1321.5 1103.5L1322.5 1103.5L1322.5 1324.5L1323.5 1324.5L1323.5 1191.5L1325.5 1191.5L1325.5 1258.5L1326.5 1258.5L1326.5 1324.5L1327.5 1324.5L1328.5 1324.5L1330.5 1324.5L1331.5 1324.5L1332.5 1324.5L1332.5 1258.5L1333.5 1258.5L1335.5 1258.5L1335.5 1324.5L1336.5 1324.5L1337.5 1324.5L1338.5 1324.5L1340.5 1324.5L1341.5 1324.5L1342.5 1324.5L1343.5 1324.5L1343.5 1258.5L1345.5 1258.5L1346.5 1258.5L1346.5 1324.5" fill="none" stroke="#000099" stroke-width="1" stroke-linejoin="miter" stroke-linecap="square"/>
<path d="M149 1324.5H169M149 1307.5H169M149 1292.5H169M149 1279.5H169M149 1268.5H169M149 1258.5H187M149 1191.5H169M149 1152.5H169M149 1125.5H169M149 1103.5H169M149 1086.5H169M149 1071.5H169M149 1058.5H169M149 1047.5H169M149 1037.5H187M149 970.5H169M149 931.5H169M149 904.5H169M149 882.5H169M149 865.5H169M149 850.5H169M149 837.5H169M149 826.5H169M149 816.5H187M149 749.5H169M149 710.5H169M149 683.5H169M149 661.5H169M149 644.5H169M149 629.5H169M149 616.5H169M149 605.5H169M149 595.5H187M149 528.5H169M149 489.5H169M149 462.5H169M149 440.5H169M149 423.5H169M149 408.5H169M149 395.5H169M149 384.5H169M149 374.5H187M149 307.5H169M149 269.5H169M149 241.5H169M149 220.5H169M149 202.5H169M149 187.5H169M149 174.5H169M149 163.5H169M149 153.5H187M150.5 1325V1289M175.5 1325V1307M200.5 1325V1307M225.5 1325V1307M250.5 1325V1307M275.5 1325V1289M300.5 1325V1307M325.5 1325V1307M350.5 1325V1307M375.5 1325V1307M399.5 1325V1289M424.5 1325V1307M449.5 1325V1307M474.5 1325V1307M499.5 1325V1307M524.5 1325V1289M549.5 1325V1307M574.5 1325V1307M599.5 1325V1307M624.5 1325V1307M648.5 1325V1289M673.5 1325V1307M698.5 1325V1307M723.5 1325V1307M748.5 1325V1307M773.5 1325V1289M798.5 1325V1307M823.5 1325V1307M848.5 1325V1307M873.5 1325V1307M898.5 1325V1289M922.5 1325V1307M947.5 1325V1307M972.5 1325V1307M997.5 1325V1307M1022.5 1325V1289M1047.5 1325V1307M1072.5 1325V1307M1097.5 1325V1307M1122.5 1325V1307M1147.5 1325V1289M1172.5 1325V1307M1196.5 1325V1307M1221.5 1325V1307M1246.5 1325V1307M1271.5 1325V1289M1296.5 1325V1307M1321.5 1325V1307" fill="none" stroke="#000" stroke-width="1"/>
<rect x="149.5" y="98.5" width="1197" height="1226" fill="none" stroke="#000" stroke-width="1"/>
</g>
<g opacity="0.999">
<text transform="translate(581.50 72.10) scale(1 1.045)" font-size="78" stroke-width="0.5">N</text>
<text transform="translate(631.96 95.10) scale(0.993 1.015)" font-size="51" stroke-width="0.35">hit</text>
<text transform="translate(706.63 72.30) scale(0.99 1.05)" font-size="78" stroke-width="0.5">SP 10</text>
<text transform="translate(150.85 1374.10) scale(0.985 1.045)" font-size="47.5" text-anchor="middle" stroke-width="0.35">0</text>
<text transform="translate(275.78 1374.10) scale(0.985 1.045)" font-size="47.5" text-anchor="middle" stroke-width="0.35">100</text>
<text transform="translate(400.32 1374.10) scale(0.985 1.045)" font-size="47.5" text-anchor="middle" stroke-width="0.35">200</text>
<text transform="translate(524.86 1374.10) scale(0.985 1.045)" font-size="47.5" text-anchor="middle" stroke-width="0.35">300</text>
<text transform="translate(649.39 1374.10) scale(0.985 1.045)" font-size="47.5" text-anchor="middle" stroke-width="0.35">400</text>
<text transform="translate(773.93 1374.10) scale(0.985 1.045)" font-size="47.5" text-anchor="middle" stroke-width="0.35">500</text>
<text transform="translate(898.47 1374.10) scale(0.985 1.045)" font-size="47.5" text-anchor="middle" stroke-width="0.35">600</text>
<text transform="translate(1023.00 1374.10) scale(0.985 1.045)" font-size="47.5" text-anchor="middle" stroke-width="0.35">700</text>
<text transform="translate(1147.54 1374.10) scale(0.985 1.045)" font-size="47.5" text-anchor="middle" stroke-width="0.35">800</text>
<text transform="translate(1272.08 1374.10) scale(0.985 1.045)" font-size="47.5" text-anchor="middle" stroke-width="0.35">900</text>
<text transform="translate(136.70 1275.40) scale(0.9645 1.045)" font-size="47.5" text-anchor="end" stroke-width="0.35">1</text>
<text transform="translate(136.70 1054.90) scale(0.9645 1.045)" font-size="47.5" text-anchor="end" stroke-width="0.35">10</text>
<text transform="translate(69.65 838.90) scale(0.9687 1.045)" font-size="47.5" stroke-width="0.35">10</text>
<text transform="translate(120.00 817.10) scale(0.957 1.03)" font-size="33" stroke-width="0.35">2</text>
<text transform="translate(69.65 617.90) scale(0.9687 1.045)" font-size="47.5" stroke-width="0.35">10</text>
<text transform="translate(120.00 596.10) scale(0.957 1.03)" font-size="33" stroke-width="0.35">3</text>
<text transform="translate(69.65 396.90) scale(0.9687 1.045)" font-size="47.5" stroke-width="0.35">10</text>
<text transform="translate(120.00 375.10) scale(0.957 1.03)" font-size="33" stroke-width="0.35">4</text>
<text transform="translate(69.65 175.90) scale(0.9687 1.045)" font-size="47.5" stroke-width="0.35">10</text>
<text transform="translate(120.00 154.10) scale(0.957 1.03)" font-size="33" stroke-width="0.35">5</text>
<text transform="translate(1138.10 1417.80) scale(0.982 1.05)" font-size="47.5" stroke-width="0.35">N</text>
<text transform="translate(1169.91 1431.50) scale(1.01 1.004)" font-size="31" stroke-width="0.35">hit</text>
<text transform="translate(1218.05 1418.20) scale(1.0075 1.07)" font-size="47.5" stroke-width="0.35">SP 10</text>
<text transform="translate(57.30 215.44) rotate(-90) scale(1 1.04)" font-size="48" stroke-width="0.35">count</text>
</g>
</svg>
</body>
</html>
